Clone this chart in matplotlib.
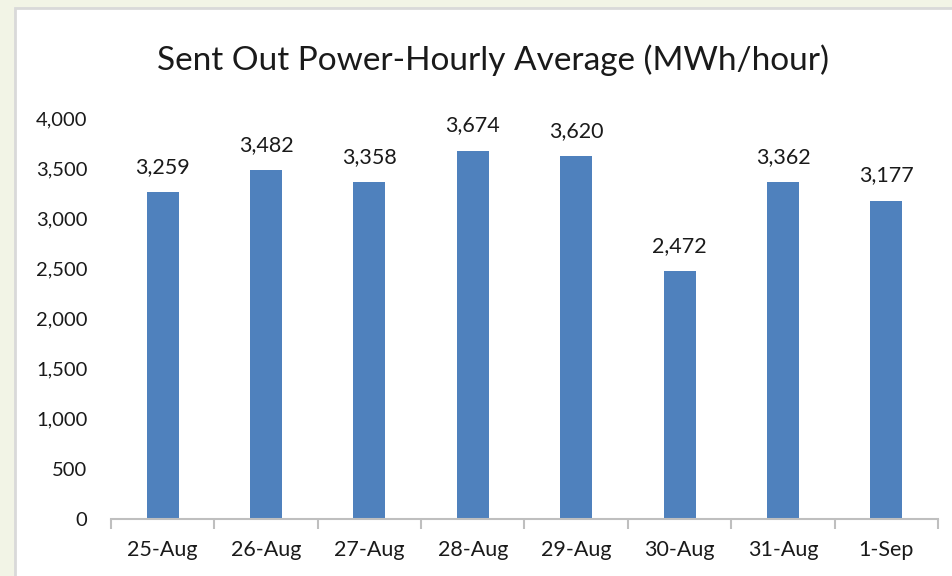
import matplotlib
matplotlib.use('Agg')
import matplotlib.pyplot as plt
import matplotlib.ticker as mt
from matplotlib.patches import Rectangle
import numpy as np

# Chart data
days = ['25-Aug', '26-Aug', '27-Aug', '28-Aug', '29-Aug', '30-Aug', '31-Aug', '1-Sep']
power = [3259, 3482, 3358, 3674, 3620, 2472, 3362, 3177]

plt.rcParams['font.family'] = ['Lato', 'DejaVu Sans']

fig = plt.figure(figsize=(9.53, 5.76), dpi=100)
fig.patch.set_facecolor('#f2f4e6')

# white chart area with light border (runs past the right/bottom edges)
fig.patches.append(Rectangle((15 / 953, -0.05), 1.0, 1 - 8 / 576 + 0.05,
                             transform=fig.transFigure, facecolor='white',
                             edgecolor='#d9d9d9', linewidth=2, zorder=-1))

ax = fig.add_axes([111 / 953, 1 - 519 / 576, (938 - 111) / 953, (519 - 118) / 576])
ax.set_facecolor('none')
ax.set_zorder(2)

x = np.arange(len(days))
bars = ax.bar(x, power, width=0.31, color='#4f81bd', zorder=2)
for xi, v in zip(x, power):
    ax.annotate(f'{v:,}', (xi, v), xytext=(0, 11), textcoords='offset points',
                ha='center', va='bottom', fontsize=15.5, color='#1a1a1a')

ax.set_xlim(-0.5, len(days) - 0.5)
ax.set_ylim(0, 4000)
ax.yaxis.set_major_locator(mt.MultipleLocator(500))
ax.yaxis.set_major_formatter(mt.StrMethodFormatter('{x:,.0f}'))

ax.set_xticks(x)
ax.set_xticklabels(days)
ax.set_xticks(np.arange(len(days) + 1) - 0.5, minor=True)
ax.tick_params(axis='x', which='major', length=0, pad=15, labelsize=15.5, labelcolor='#1a1a1a')
ax.tick_params(axis='x', which='minor', length=7, color='#bfbfbf', width=1.5)
ax.tick_params(axis='y', length=0, pad=17, labelsize=14.5, labelcolor='#1a1a1a')

for s in ['top', 'right', 'left']:
    ax.spines[s].set_visible(False)
ax.spines['bottom'].set_color('#bfbfbf')
ax.spines['bottom'].set_linewidth(1.5)

fig.text(493 / 953, 1 - 60 / 576, 'Sent Out Power-Hourly Average (MWh/hour)',
         ha='center', va='center', fontsize=24, color='#1a1a1a')

plt.savefig('out.png', dpi=100)
